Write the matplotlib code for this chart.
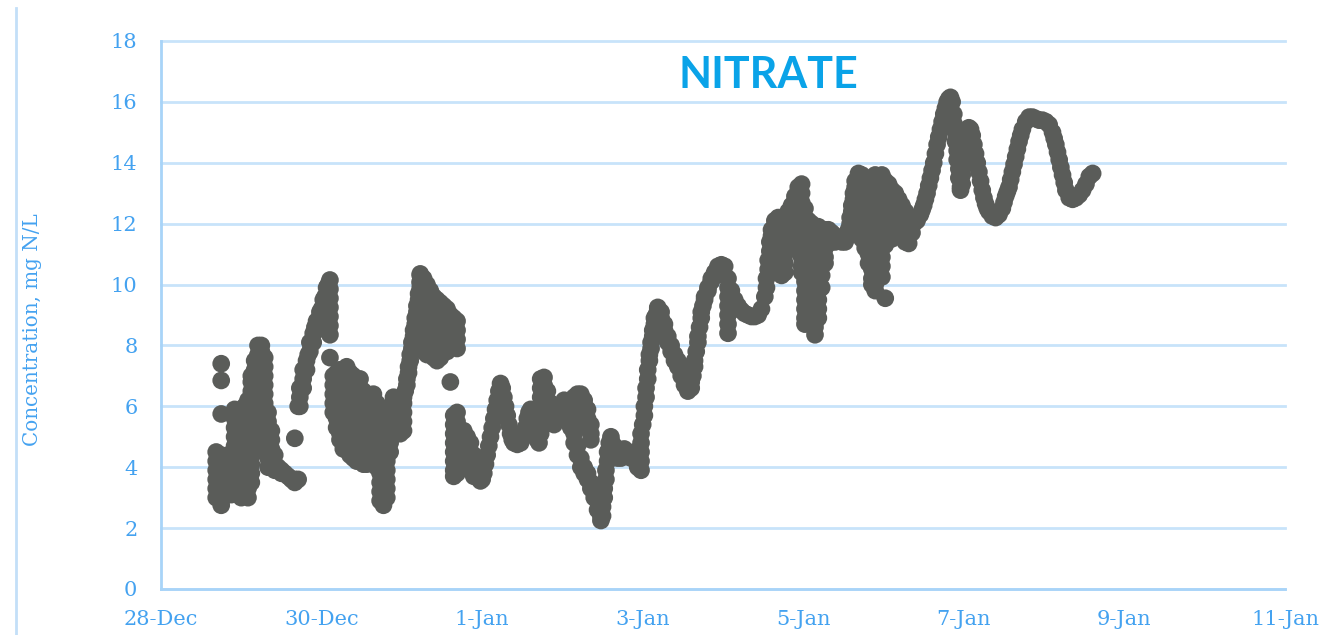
import matplotlib
matplotlib.use("Agg")
import matplotlib.pyplot as plt
from matplotlib.lines import Line2D
import pandas as pd

# Nitrate sensor log. Times are hours after 29-Dec 00:00; each hour entry holds
# the readings logged during that hour (mg N/L).
start = pd.Timestamp("2017-12-29 00:00")

hours_dec29 = [-7.5, -6, -5, -4, -3, -2, -1, 0, 1, 2, 3, 4, 5, 6, 7, 8, 9, 10, 11, 12,
               13, 14, 15, 16, 17, 17.5, 18.5, 19.5, 20, 20.5, 21.5, 22, 22.5, 23.5]
values_dec29 = [
    [4.5, 4.2, 3.9, 3.6, 3.3, 3.0], [7.4, 6.85, 5.75, 4.4, 4.1, 3.8, 3.5, 3.2, 2.9, 2.75],
    [4.3, 4.0, 3.7, 3.4, 3.1], [3.2, 3.5, 3.8, 4.1, 4.4], [4.3, 4.0, 3.7, 3.4, 3.1],
    [3.2, 3.5, 3.8, 4.1, 4.4, 4.7, 5.0, 5.3, 5.6, 5.9],
    [5.8, 5.5, 5.2, 4.9, 4.6, 4.3, 4.0, 3.7, 3.4, 3.1],
    [3.0, 3.3, 3.6, 3.9, 4.2, 4.5, 4.8, 5.1, 5.4],
    [6.0, 5.7, 5.4, 5.1, 4.8, 4.5, 4.2, 3.9, 3.6, 3.3],
    [3.0, 3.3, 3.6, 3.9, 4.2, 4.5, 4.8, 5.1, 5.4, 5.7, 6.0, 6.2],
    [3.5, 3.8, 4.1, 4.4, 4.7, 5.0, 5.3, 5.6, 5.9, 6.2, 6.5, 6.8, 7.0],
    [4.5, 4.8, 5.1, 5.4, 5.7, 6.0, 6.3, 6.6, 6.9, 7.2, 7.5],
    [6.8, 7.1, 7.4, 7.7, 8.0], [8.0, 7.8, 7.5, 7.2], [7.6, 7.3, 7.0, 6.7, 6.4, 6.1, 5.8, 5.5],
    [5.8, 5.5, 5.2, 4.9, 4.6, 4.3, 4.0], [5.2, 4.9, 4.6, 4.3, 4.0], [4.4, 4.1, 3.9],
    [4.0], [3.9, 3.8], [3.8], [3.7], [3.6], [3.6, 3.5, 4.95], [3.6, 6.0],
    [6.0, 6.3, 6.6], [6.6, 6.9, 7.2], [7.2, 7.5], [7.7], [7.8, 8.1], [8.1, 8.4], [8.6],
    [8.5, 8.8], [8.8, 9.1],
]

hours_dec30 = [24, 24.5, 25, 25.5, 26, 26.5, 27.5, 28.5, 29.5, 30.5, 31.5, 32.5, 33.5, 34.5,
               35.5, 36.5, 37.5, 38.5, 39.5, 40.5, 41.5, 42.5, 43.5, 44.5, 45.5, 46.5, 47.5]
values_dec30 = [
    [9.2], [9.2, 9.5], [9.6], [9.6, 9.9], [10.0], [10.15, 9.85, 9.55, 9.25, 8.95, 8.65, 8.35, 7.6],
    [7.0, 6.7, 6.4, 6.1, 5.8], [7.1, 6.8, 6.5, 6.2, 5.9, 5.6, 5.3],
    [7.2, 6.9, 6.6, 6.3, 6.0, 5.7, 5.4, 5.1, 4.9], [7.2, 6.9, 6.6, 6.3, 6.0, 5.7, 5.4, 5.1, 4.8, 4.6],
    [7.3, 7.0, 6.7, 6.4, 6.1, 5.8, 5.5, 5.2, 4.9, 4.6], [7.1, 6.8, 6.5, 6.2, 5.9, 5.6, 5.3, 5.0, 4.7, 4.4],
    [7.0, 6.7, 6.4, 6.1, 5.8, 5.5, 5.2, 4.9, 4.6, 4.3], [6.8, 6.5, 6.2, 5.9, 5.6, 5.3, 5.0, 4.7, 4.4, 4.2],
    [6.9, 6.6, 6.3, 6.0, 5.7, 5.4, 5.1, 4.8, 4.5, 4.2], [6.5, 6.2, 5.9, 5.6, 5.3, 5.0, 4.7, 4.4, 4.1],
    [6.1, 5.8, 5.5, 5.2, 4.9, 4.6, 4.3, 4.1], [6.3, 6.0, 5.7, 5.4, 5.1, 4.8, 4.5, 4.2],
    [6.4, 6.1, 5.8, 5.5, 5.2, 4.9, 4.6, 4.3, 4.1], [6.1, 5.8, 5.5, 5.2, 4.9, 4.6, 4.3, 4.0],
    [5.6, 5.3, 5.0, 4.7, 4.4, 4.1, 3.8, 3.5, 3.2, 2.9], [4.6, 4.3, 4.0, 3.7, 3.4, 3.1, 2.75],
    [3.0, 3.3, 3.6, 3.9, 4.2, 4.5], [4.5, 4.8, 5.1, 5.4, 5.7, 6.0], [5.4, 5.7, 6.0, 6.3],
    [5.2, 5.5, 5.8, 6.1], [5.1, 5.4, 5.7, 6.0],
]

hours_dec31 = [48.5, 49, 49.5, 50, 50.5, 51, 51.5, 52, 52.5, 53, 53.5, 54.5, 55.5, 56.5, 57.5,
               58.5, 59.5, 60.5, 61.5, 62.5, 63.5, 64.5, 65.5, 66.5, 67.5, 68.5, 69.5, 70.5, 71.5]
values_dec31 = [
    [5.2, 5.5, 5.8, 6.1, 6.3], [6.5], [6.7, 6.9], [7.1, 7.3], [7.5, 7.7], [7.9, 8.1], [8.3, 8.5],
    [8.7, 8.9], [9.1, 9.3], [9.5, 9.7], [9.9, 10.1, 10.3, 10.35, 10.05, 9.75, 9.45, 9.15, 8.85, 8.55],
    [10.2, 9.9, 9.6, 9.3, 9.0, 8.7, 8.4, 8.1, 7.8], [10.0, 9.7, 9.4, 9.1, 8.8, 8.5, 8.2, 7.9, 7.7],
    [9.8, 9.5, 9.2, 8.9, 8.6, 8.3, 8.0, 7.7], [9.6, 9.3, 9.0, 8.7, 8.4, 8.1, 7.8, 7.6],
    [9.5, 9.2, 8.9, 8.6, 8.3, 8.0, 7.7, 7.5], [9.4, 9.1, 8.8, 8.5, 8.2, 7.9, 7.6],
    [9.3, 9.0, 8.7, 8.4, 8.1, 7.8], [9.2, 8.9, 8.6, 8.3, 8.0, 7.8], [9.0, 8.7, 8.4, 8.1, 7.9, 6.8],
    [8.9, 8.6, 8.3, 8.0, 5.7, 5.4, 5.1, 4.8, 4.5, 4.2, 3.9, 3.7],
    [8.8, 8.5, 8.2, 7.9, 5.8, 5.5, 5.2, 4.9, 4.6, 4.3, 4.0, 3.8],
    [5.0, 4.7, 4.4, 4.2], [5.2, 4.9, 4.6, 4.4], [5.0, 4.7, 4.4, 4.2], [4.8, 4.5, 4.2, 4.0],
    [4.4, 4.1, 3.8, 3.7], [4.1, 3.8], [3.6, 3.55],
]

hours_jan01 = [72, 72.5, 73, 73.5, 74, 74.5, 75, 75.5, 76, 76.5, 77, 77.5, 78, 78.5, 79, 79.5,
               80, 80.5, 81, 81.5, 82.5, 83.5, 84.5, 85, 85.5, 86, 86.5, 87, 87.5, 88, 88.5, 89,
               89.5, 90.5, 91.5, 92.5, 93.5, 94.5, 95.5]
values_jan01 = [
    [3.6], [3.8], [4.1], [4.4], [4.7], [5.0], [5.3], [5.6], [5.9], [6.2], [6.5], [6.75], [6.6],
    [6.3], [6.0], [5.7], [5.4], [5.1], [4.9], [4.8], [4.75], [4.8], [5.0], [5.3], [5.6], [5.8],
    [5.9], [5.7], [5.4], [5.1], [4.9], [4.8],
    [5.1, 5.4, 5.7, 6.0, 6.3, 6.6, 6.9], [6.95, 6.7, 6.4, 6.1], [6.5, 6.2, 5.9, 5.7],
    [6.1, 5.8, 5.5], [6.0, 5.7, 5.4], [5.9, 5.6], [6.0, 5.7],
]

hours_jan02 = [96.5, 97.5, 98.5, 99.5, 100.5, 101.5, 102.5, 103.5, 104.5, 105.5, 106.5, 107.5,
               108, 108.5, 109, 109.5, 110, 110.5, 111.5, 112.5, 113.5, 114.5, 115.5, 116.5,
               117.5, 118.5, 119.5]
values_jan02 = [
    [6.2, 5.9, 5.6], [6.1, 5.8, 5.5], [6.2, 5.9, 5.6, 5.3], [6.3, 6.0, 5.7, 5.4, 5.1, 4.8],
    [6.4, 6.1, 5.8, 4.7, 4.4], [6.4, 6.1, 5.8, 4.3, 4.0], [6.2, 5.9, 5.6, 4.0, 3.8],
    [5.9, 5.6, 5.3, 3.8, 3.6], [5.4, 5.1, 4.9, 3.5, 3.3], [3.2, 3.0], [2.9, 2.6], [2.4, 2.25],
    [2.4, 2.7], [3.0, 3.3], [3.6, 3.9], [4.2, 4.5], [4.8], [5.0, 4.9],
    [4.7, 4.5], [4.4, 4.3], [4.3, 4.4], [4.5, 4.6], [4.5, 4.4], [4.3, 4.4], [4.5, 4.3],
    [4.1, 4.0], [3.9, 4.2, 4.5, 4.8, 5.1],
]

hours_jan03 = [120, 120.5, 121, 121.5, 122, 122.5, 123, 123.5, 124, 124.5, 125.5, 126.5, 127.5,
               128.5, 129.5, 130.5, 131.5, 132.5, 133.5, 134.5, 135, 135.5, 136, 136.5, 137,
               137.5, 138, 138.5, 139.5, 140.5, 141.5, 142.5, 143.5]
values_jan03 = [
    [5.4], [5.7, 6.0], [6.3, 6.6], [6.9, 7.2], [7.5, 7.7], [7.9, 8.1], [8.3, 8.5], [8.7, 8.9],
    [9.0], [9.2, 9.25], [9.1, 8.9], [8.7, 8.5], [8.3, 8.1], [8.0, 7.8], [7.7, 7.5], [7.5, 7.3],
    [7.2, 7.0], [6.9, 6.7], [6.6, 6.5], [6.6, 6.8], [7.0], [7.3, 7.5], [7.8], [8.1, 8.3], [8.6],
    [8.9, 9.1], [9.3], [9.5, 9.6], [9.8, 9.9], [10.1, 10.2], [10.3, 10.4], [10.5, 10.6],
    [10.65, 10.4],
]

hours_jan04 = [144.5, 145.5, 146.5, 147.5, 148.5, 149.5, 150.5, 151.5, 152.5, 153.5, 154.5,
               155.5, 156.5, 157, 157.5, 158, 158.5, 159.5, 160.5, 161.5, 162.5, 163.5, 164.5,
               165.5, 166.5, 167.5]
values_jan04 = [
    [10.6, 10.3], [10.2, 9.9, 9.6, 9.3, 9.0, 8.7, 8.4], [9.8], [9.5], [9.3], [9.15], [9.05],
    [9.0], [8.95], [8.95], [9.0], [9.2], [9.6], [9.9, 10.2], [10.5, 10.8], [11.1, 11.4],
    [11.6, 11.8], [11.9, 12.1],
    [12.2, 11.9, 11.6, 11.3, 11.0, 10.7, 10.5], [12.1, 11.8, 11.5, 11.2, 10.9, 10.6, 10.3],
    [12.2, 11.9, 11.6, 11.3, 11.0, 10.7, 10.4], [12.4, 12.1, 11.8, 11.5, 11.2],
    [12.6, 12.3, 12.0, 11.7], [12.9, 12.6, 12.3], [13.2, 12.9, 12.6],
    [13.3, 13.0, 12.7, 12.4, 12.1, 11.8, 11.5, 11.2, 10.9, 10.6, 10.4],
]

hours_jan05 = [168.5, 169.5, 170.5, 171.5, 172.5, 173.5, 174.5, 175.5, 176.5, 177.5, 178.5,
               179.5, 180.5, 181.5, 182, 182.5, 183, 183.5, 184.5, 185.5, 186.5, 187.5, 188.5,
               189.5, 190.5, 191.5]
values_jan05 = [
    [12.5, 12.2, 11.9, 11.6, 11.3, 11.0, 10.7, 10.4, 10.1, 9.8, 9.5, 9.2, 8.9, 8.7],
    [12.1, 11.8, 11.5, 11.2, 10.9, 10.6, 10.3, 10.0, 9.7],
    [12.0, 11.7, 11.4, 11.1, 10.8, 10.5, 10.2, 9.9, 9.6, 9.3, 9.0, 8.8],
    [11.9, 11.6, 11.3, 11.0, 10.7, 10.4, 10.1, 9.8, 9.5, 9.2, 8.9, 8.6, 8.35],
    [11.9, 11.6, 11.3, 11.0, 10.7, 10.4, 10.1, 9.8, 9.5, 9.2, 8.9],
    [11.8, 11.5, 11.2, 10.9, 10.6, 10.3, 9.9], [11.8, 11.5, 11.2, 10.9, 10.7],
    [11.8, 11.5], [11.7, 11.4], [11.6, 11.4], [11.5], [11.4], [11.4], [11.6, 11.8],
    [12.0, 12.2], [12.4, 12.6], [12.8, 13.0], [13.2, 13.4],
    [13.65, 13.35, 13.05, 12.75, 12.45, 12.2], [13.6, 13.3, 13.0, 12.7, 12.4, 12.1, 11.8, 11.5],
    [13.5, 13.2, 12.9, 12.6, 12.3, 12.0, 11.7, 11.4, 11.2],
    [13.4, 13.1, 12.8, 12.5, 12.2, 11.9, 11.6, 11.3, 11.0, 10.7],
    [13.5, 13.2, 12.9, 12.6, 12.3, 12.0, 11.7, 11.4, 11.1, 10.8, 10.5, 10.2, 10.0],
    [13.6, 13.3, 13.0, 12.7, 12.4, 12.1, 11.8, 11.5, 11.2, 10.9, 10.6, 10.3, 10.0, 9.8],
    [13.5, 13.2, 12.9, 12.6, 12.3, 12.0, 11.7, 11.4, 11.1, 10.8, 10.6],
    [13.6, 13.3, 13.0, 12.7, 12.4, 12.1, 11.8, 11.5, 11.2, 10.9, 10.6, 10.25],
]

hours_jan06 = [192.5, 193.5, 194.5, 195.5, 196.5, 197.5, 198.5, 199.5, 200.5, 201, 202, 203,
               203.5, 204, 204.5, 205, 205.5, 206, 206.5, 207, 207.5, 208, 208.5, 209, 209.5,
               210, 210.5, 211, 211.5, 212, 212.5, 213, 213.5, 214, 214.5, 215, 215.5]
values_jan06 = [
    [13.4, 13.1, 12.8, 12.5, 12.2, 11.9, 11.6, 11.3, 9.55], [13.3, 13.0, 12.7, 12.4, 12.1, 11.8, 11.6],
    [13.1, 12.8, 12.5, 12.2, 11.9, 11.6, 11.5], [13.0, 12.7, 12.4, 12.1, 11.9],
    [12.8, 12.5, 12.2, 11.9, 11.8], [12.6, 12.3, 12.0, 11.7, 11.6], [12.4, 12.1, 11.8, 11.5, 11.4],
    [12.2, 11.9, 11.6, 11.35], [12.0, 11.7], [12.0], [12.1], [12.3],
    [12.45], [12.6], [12.8], [13.0], [13.25], [13.5], [13.75], [14.0], [14.3], [14.6], [14.85],
    [15.1], [15.35], [15.6], [15.8], [16.0], [16.1], [16.15], [16.0],
    [15.6, 15.3], [15.0, 14.7], [14.4, 14.1], [13.8, 13.5], [13.2, 13.1], [13.3, 13.6],
]

hours_jan07 = [216, 216.5, 217, 217.5, 218, 218.5, 219, 219.5, 220, 220.5, 221, 221.5, 222,
               222.5, 223, 223.5, 224.5, 225.5, 226.5, 227.5, 228, 228.5, 229, 229.5, 230, 230.5,
               231, 231.5, 232, 232.5, 233, 233.5, 234.5, 235.5, 236.5, 237.5, 238.5, 239.5]
values_jan07 = [
    [13.9, 14.2], [14.5, 14.8], [15.0, 15.1], [15.15], [15.1], [14.9], [14.6], [14.3],
    [14.0], [13.7], [13.4], [13.1], [12.85], [12.65], [12.5], [12.4],
    [12.25], [12.2], [12.3], [12.5],
    [12.7], [12.9], [13.05], [13.2], [13.45], [13.7], [13.95], [14.2], [14.45], [14.7], [14.9], [15.1],
    [15.35], [15.5], [15.5], [15.45], [15.4], [15.4],
]

hours_jan08 = [240.5, 241.5, 242.5, 243, 243.5, 244, 244.5, 245, 245.5, 246, 246.5, 247.5,
               248.5, 249.5, 250.5, 251.5, 252.5, 253.5, 254.5]
values_jan08 = [
    [15.35], [15.25], [15.0], [14.8], [14.6], [14.35], [14.1], [13.85], [13.6], [13.35], [13.1],
    [12.85], [12.8], [12.85], [12.95], [13.1], [13.3], [13.55], [13.65],
]

y_ticks = [0, 2, 4, 6, 8, 10, 12, 14, 16, 18]
x_tick_dates = ["2017-12-28", "2017-12-30", "2018-01-01", "2018-01-03",
                "2018-01-05", "2018-01-07", "2018-01-09", "2018-01-11"]
x_tick_labels = ["28-Dec", "30-Dec", "1-Jan", "3-Jan", "5-Jan", "7-Jan", "9-Jan", "11-Jan"]

segments = [
    (hours_dec29, values_dec29), (hours_dec30, values_dec30), (hours_dec31, values_dec31),
    (hours_jan01, values_jan01), (hours_jan02, values_jan02), (hours_jan03, values_jan03),
    (hours_jan04, values_jan04), (hours_jan05, values_jan05), (hours_jan06, values_jan06),
    (hours_jan07, values_jan07), (hours_jan08, values_jan08),
]
times, nitrate = [], []
for hrs, vals in segments:
    assert len(hrs) == len(vals)
    for h, group in zip(hrs, vals):
        for v in group:
            times.append(start + pd.Timedelta(hours=h))
            nitrate.append(v)

axis_blue = "#44A2F0"
grid_blue = "#C8E3FA"
spine_blue = "#A8D4F8"

fig = plt.figure(figsize=(13.42, 6.35), dpi=100)
ax = fig.add_axes([161 / 1342, 46 / 635, 1124 / 1342, 548 / 635])

ax.scatter(times, nitrate, s=162, color="#5A5C59", edgecolors="none", zorder=3)

ax.set_ylim(0, 18)
ax.set_yticks(y_ticks)
ax.set_xlim(pd.Timestamp(x_tick_dates[0]), pd.Timestamp(x_tick_dates[-1]))
ax.set_xticks([pd.Timestamp(d) for d in x_tick_dates])
ax.set_xticklabels(x_tick_labels)

ax.grid(axis="y", color=grid_blue, lw=2, zorder=0)
ax.grid(axis="x", visible=False)
for gl in ax.get_ygridlines():
    gl.set_clip_on(False)
for side in ("top", "right"):
    ax.spines[side].set_visible(False)
for side in ("left", "bottom"):
    ax.spines[side].set_color(spine_blue)
    ax.spines[side].set_linewidth(2)

serif = ["DejaVu Serif"]
ax.tick_params(axis="both", length=0, colors=axis_blue, labelsize=15)
ax.tick_params(axis="y", pad=17)
ax.tick_params(axis="x", pad=15)
for lab in ax.get_xticklabels() + ax.get_yticklabels():
    lab.set_family(serif)

ax.set_ylabel("Concentration, mg N/L", color=axis_blue, fontsize=14.3, family=serif)
ax.yaxis.set_label_coords(-0.106, 0.474)

ax.text(0.54, 0.938, "NITRATE", transform=ax.transAxes, ha="center", va="center",
        fontsize=31, fontweight="bold", color="#0AA3E8", family="Lato")

# chart-area border on the left edge
fig.add_artist(Line2D([16 / 1342, 16 / 1342], [0, 1 - 8 / 635], transform=fig.transFigure,
                      color="#C3DFF8", lw=2))

fig.savefig("out.png", dpi=100)
